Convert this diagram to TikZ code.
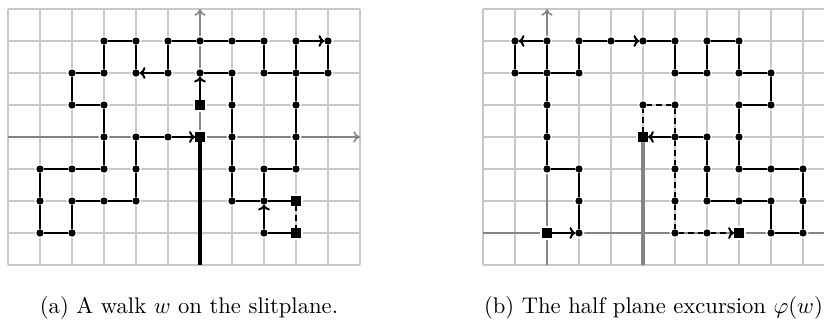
\documentclass[tikz,border=0pt]{standalone}
\usetikzlibrary{arrows.meta}
\begin{document}
\begin{tikzpicture}[x=14.13pt,y=14.13pt,
  gridline/.style={draw=black!22, line width=0.8pt},
  axis/.style={draw=black!48, line width=0.7pt, -{To[length=3pt,width=5pt]}},
  walk/.style={draw=black, line width=0.9pt},
  walkarrow/.style={walk, -{To[length=2.6pt,width=5.2pt]}},
  dashedwalk/.style={walk, dash pattern=on 2.4pt off 1.8pt},
  dot/.style={circle, fill=black, inner sep=0pt, outer sep=0pt, minimum size=3.2pt},
  sq/.style={rectangle, fill=black, inner sep=0pt, outer sep=0pt, minimum size=4.4pt},
  caption/.style={anchor=base, font=\normalsize}
]
\useasboundingbox (0,0) rectangle (25.75,-10.25);
\clip (0,0) rectangle (25.75,-10.25);

% ---------------- left panel ----------------
\begin{scope}[shift={(6.25,-4.28125)}]
  \draw[gridline, step=14.13pt] (-6,-4) grid (5,4);
  \coordinate (LaxW) at (-6,0); \coordinate (LaxE) at (5,0);
  \coordinate (LaxS) at (0,-4); \coordinate (LaxN) at (0,4);
  \draw[axis] (LaxW) -- (LaxE);
  \draw[axis] (LaxS) -- (LaxN);
  \foreach \x/\y in {-3/3,-2/3,-1/3,0/3,1/3,2/3,3/3,4/3,
      -4/2,-3/2,-2/2,-1/2,0/2,1/2,2/2,3/2,4/2,
      -4/1,-3/1,1/1,3/1,
      -3/0,-2/0,-1/0,1/0,3/0,
      -5/-1,-4/-1,-3/-1,-2/-1,1/-1,2/-1,3/-1,
      -5/-2,-4/-2,-3/-2,-2/-2,1/-2,2/-2,
      -5/-3,-4/-3,2/-3}{
    \fill[white] (\x,\y) circle (2.4pt);
    \node[dot] (L\x_\y) at (\x,\y) {};
  }
  \foreach \x/\y in {0/0,0/1,3/-2,3/-3}{
    \fill[white] (\x,\y) ++(-3.1pt,-3.1pt) rectangle ++(6.2pt,6.2pt);
    \node[sq] (L\x_\y) at (\x,\y) {};
  }
  \coordinate (Lslit) at (0,-4);
  \draw[line width=1.6pt] (L0_0) -- (Lslit);
  \foreach \a/\b in {L-3_3/L-2_3, L-3_3/L-3_2, L-2_3/L-2_2, L-1_3/L-1_2,
      L-1_3/L0_3, L0_3/L1_3, L1_3/L2_3, L2_3/L2_2, L2_2/L3_2, L3_2/L4_2,
      L3_3/L3_2, L4_3/L4_2, L3_2/L3_1, L3_1/L3_0, L3_0/L3_-1, L2_-1/L3_-1,
      L2_-1/L2_-2, L2_-3/L3_-3, L1_-2/L2_-2, L2_-2/L3_-2, L1_0/L1_-1,
      L1_-1/L1_-2, L1_2/L1_1, L1_1/L1_0, L0_2/L1_2, L-3_2/L-4_2,
      L-4_2/L-4_1, L-4_1/L-3_1, L-3_1/L-3_0, L-3_0/L-3_-1, L-3_-1/L-4_-1,
      L-4_-1/L-5_-1, L-5_-1/L-5_-2, L-5_-2/L-5_-3, L-5_-3/L-4_-3,
      L-4_-3/L-4_-2, L-4_-2/L-3_-2, L-3_-2/L-2_-2, L-2_-2/L-2_-1,
      L-2_-1/L-2_0, L-2_0/L-1_0}{
    \draw[walk] (\a) -- (\b);
  }
  \foreach \a/\b in {L-1_2/L-2_2, L3_3/L4_3, L2_-3/L2_-2, L0_1/L0_2, L-1_0/L0_0}{
    \draw[walkarrow] (\a) -- (\b);
  }
  \draw[dashedwalk] (L3_-2) -- (L3_-3);
\end{scope}

% ---------------- right panel ----------------
\begin{scope}[shift={(17.09375,-7.28125)}]
  \draw[gridline, step=14.13pt] (-2,-1) grid (9,7);
  \coordinate (RaxW) at (-2,0); \coordinate (RaxE) at (9,0);
  \coordinate (RaxS) at (0,-1); \coordinate (RaxN) at (0,7);
  \draw[axis] (RaxW) -- (RaxE);
  \draw[axis] (RaxS) -- (RaxN);
  \foreach \x/\y in {-1/6,0/6,1/6,2/6,3/6,4/6,5/6,6/6,
      -1/5,0/5,1/5,4/5,5/5,6/5,7/5,
      0/4,3/4,4/4,6/4,7/4,
      0/3,4/3,5/3,6/3,
      0/2,1/2,4/2,5/2,6/2,7/2,8/2,
      1/1,4/1,5/1,6/1,7/1,8/1,
      1/0,4/0,5/0,7/0,8/0}{
    \fill[white] (\x,\y) circle (2.4pt);
    \node[dot] (R\x_\y) at (\x,\y) {};
  }
  \foreach \x/\y in {0/0,3/3,6/0}{
    \fill[white] (\x,\y) ++(-3.1pt,-3.1pt) rectangle ++(6.2pt,6.2pt);
    \node[sq] (R\x_\y) at (\x,\y) {};
  }
  \coordinate (Rslit) at (3,-1);
  \draw[draw=black!48, line width=1.6pt] (R3_3) -- (Rslit);
  \foreach \a/\b in {R-1_6/R-1_5, R-1_5/R0_5, R0_5/R1_5, R0_6/R0_5,
      R1_5/R1_6, R1_6/R2_6, R0_5/R0_4, R0_4/R0_3, R0_3/R0_2, R0_2/R1_2,
      R1_2/R1_1, R1_1/R1_0, R3_6/R4_6, R4_6/R4_5, R4_5/R5_5, R5_5/R5_6,
      R5_6/R6_6, R6_6/R6_5, R6_5/R7_5, R7_5/R7_4, R7_4/R6_4, R6_4/R6_3,
      R6_3/R6_2, R4_3/R5_3, R5_3/R5_2, R5_2/R5_1, R5_1/R6_1, R6_1/R7_1,
      R7_1/R7_0, R7_0/R8_0, R8_0/R8_1, R8_1/R8_2, R8_2/R7_2, R7_2/R6_2}{
    \draw[walk] (\a) -- (\b);
  }
  \foreach \a/\b in {R0_6/R-1_6, R2_6/R3_6, R4_3/R3_3, R0_0/R1_0}{
    \draw[walkarrow] (\a) -- (\b);
  }
  \foreach \a/\b in {R3_3/R3_4, R3_4/R4_4, R4_4/R4_3, R4_3/R4_2,
      R4_2/R4_1, R4_1/R4_0, R4_0/R5_0}{
    \draw[dashedwalk] (\a) -- (\b);
  }
  \draw[dashedwalk, -{To[length=2.6pt,width=5.2pt]}] (R5_0) -- (R6_0);
\end{scope}

\node[caption] (capa) at (5.906,-9.81) {(a) A walk $w$ on the slitplane.};
\node[caption] (capb) at (20.42,-9.81) {(b) The half plane excursion $\varphi(w)$};
\end{tikzpicture}
\end{document}
